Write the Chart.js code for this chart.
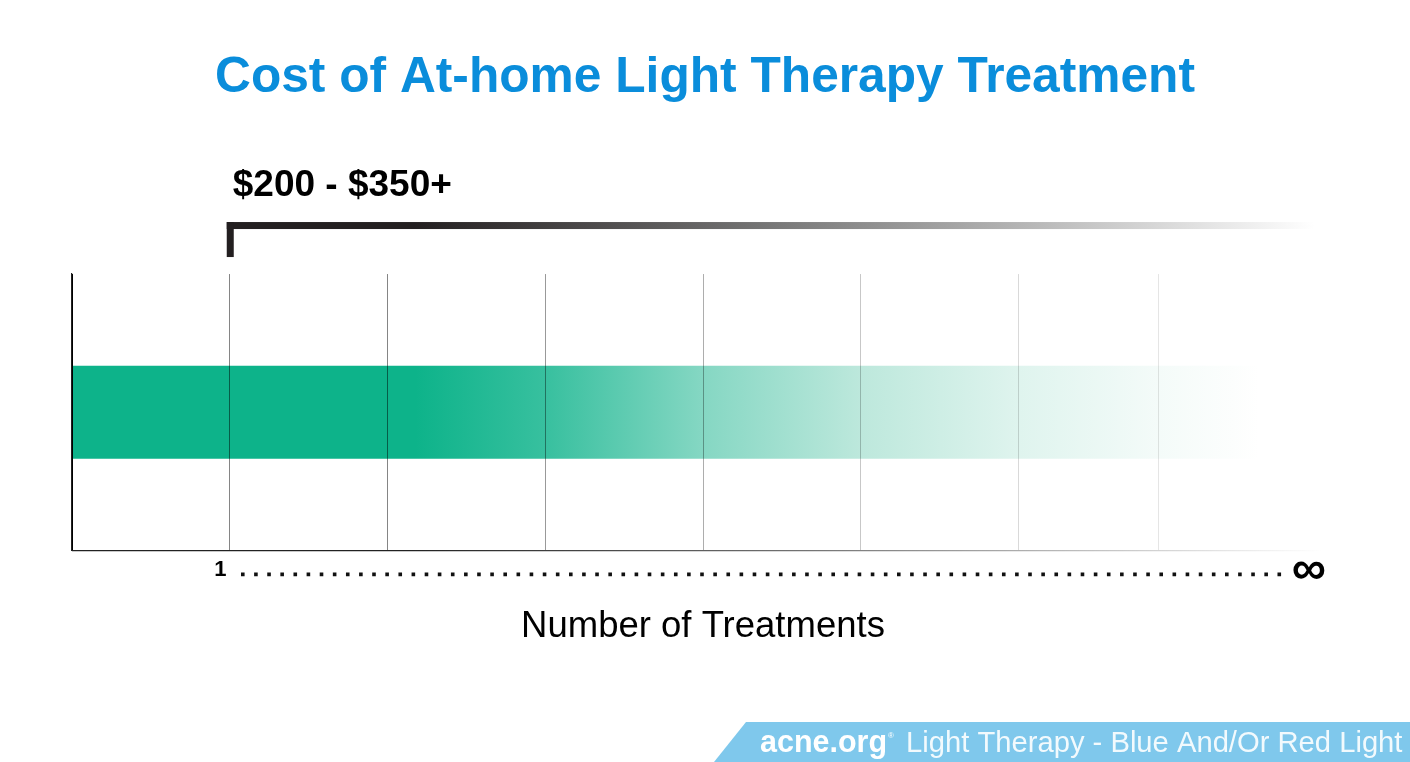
<!DOCTYPE html>
<html><head><meta charset="utf-8">
<style>html,body{margin:0;padding:0;background:#fff}canvas{display:block}#w{position:relative;width:1410px;height:762px}</style>
<script src="https://cdn.jsdelivr.net/npm/chart.js@4"></script>
</head><body><div id="w"><canvas id="c"></canvas></div>
<script>
const categories = ['At-home light therapy'];
const treatmentTicks = [0, 0.94, 1, 2, 3, 4, 5, 6, 6.885, 7.84];
const tickLabels = ['', '1', '', '', '', '', '', '', '', '∞'];
const gridAlpha = [1, 0, 0.48, 0.48, 0.4, 0.32, 0.22, 0.15, 0.10, 0];
const barRange = [0, 7.92];
const axisMax = 8;
const fadeEnd = 7.92;
const costLabel = '$200 - $350+';
const titleText = 'Cost of At-home Light Therapy Treatment';
const axisTitle = 'Number of Treatments';
const footerBrand = 'acne.org';
const footerText = 'Light Therapy - Blue And/Or Red Light';
const FONT = '"Liberation Sans", Arial, sans-serif';

const cv = document.getElementById('c');
const helper = cv.getContext('2d');
const barGrad = helper.createLinearGradient(72, 0, 1321, 0);
[[0,'#0db38a'],[0.275,'#0db38a'],[0.38,'#38c09f'],[0.505,'#85d7c3'],[0.632,'#bde8dc'],[0.759,'#dff4ee'],[0.87,'#f4fbf9'],[0.93,'#fcfefd'],[0.95,'#ffffff'],[1,'#ffffff']]
  .forEach(s => barGrad.addColorStop(s[0], s[1]));

const annot = {
  id: 'annot',
  afterDraw(chart) {
    const ctx = chart.ctx, x = chart.scales.x, a = chart.chartArea;
    const px = v => x.getPixelForValue(v);
    ctx.save();
    const bl = ctx.createLinearGradient(px(0), 0, px(fadeEnd), 0);
    bl.addColorStop(0, '#222'); bl.addColorStop(0.27, '#222'); bl.addColorStop(0.6, '#777'); bl.addColorStop(1, '#fff');
    ctx.strokeStyle = bl; ctx.lineWidth = 1.2;
    ctx.beginPath(); ctx.moveTo(px(0), a.bottom + .3); ctx.lineTo(px(fadeEnd), a.bottom + .3); ctx.stroke();
    const br = ctx.createLinearGradient(px(1), 0, 1315, 0);
    br.addColorStop(0, '#231f20'); br.addColorStop(0.17, '#231f20'); br.addColorStop(0.5, '#777'); br.addColorStop(0.8, '#c8c8c8'); br.addColorStop(1, '#ffffff');
    ctx.fillStyle = br;
    ctx.fillRect(px(1) - 3, a.top - 52, 1088, 7);
    ctx.fillStyle = '#231f20';
    ctx.fillRect(px(1) - 3, a.top - 52, 7, 35);
    ctx.fillStyle = '#000'; ctx.textAlign = 'left'; ctx.textBaseline = 'alphabetic';
    ctx.font = 'bold 37px ' + FONT;
    ctx.fillText(costLabel, px(1) + 3, a.top - 78);
    ctx.strokeStyle = '#111'; ctx.lineWidth = 3.6; ctx.setLineDash([3.6, 9.52]);
    ctx.beginPath(); ctx.moveTo(241, a.bottom + 24); ctx.lineTo(1282, a.bottom + 24); ctx.stroke();
    ctx.setLineDash([]);
    ctx.fillStyle = '#7fc8ec';
    ctx.beginPath(); ctx.moveTo(714, 762); ctx.lineTo(746, 722); ctx.lineTo(1410, 722); ctx.lineTo(1410, 762); ctx.closePath(); ctx.fill();
    ctx.fillStyle = '#fff'; ctx.font = 'bold 30.5px ' + FONT;
    ctx.fillText(footerBrand, 760, 752);
    ctx.font = '8px ' + FONT; ctx.fillText('®', 888, 738);
    ctx.fillStyle = 'rgba(255,255,255,.9)'; ctx.font = '29.2px ' + FONT;
    ctx.fillText(footerText, 906, 752);
    ctx.restore();
  }
};

new Chart(cv, {
  type: 'bar',
  plugins: [annot],
  data: { labels: categories, datasets: [{ data: [barRange], backgroundColor: barGrad, borderWidth: 0, barPercentage: 0.336, categoryPercentage: 1 }] },
  options: {
    indexAxis: 'y', responsive: true, maintainAspectRatio: false, animation: false,
    layout: { padding: 0 },
    plugins: {
      legend: { display: false }, tooltip: { enabled: false },
      title: { display: true, text: titleText, color: '#0a8ddb', font: { family: FONT, size: 49.7, weight: 'bold', lineHeight: 1.2 }, padding: { top: 48, bottom: 166.4 } }
    },
    scales: {
      x: {
        type: 'linear', min: 0, max: axisMax,
        afterBuildTicks(s) { s.ticks = treatmentTicks.map(v => ({ value: v })); },
        grid: { z: 1, drawTicks: false, color: c => 'rgba(0,0,0,' + (gridAlpha[c.index] ?? 0) + ')', lineWidth: 1 },
        border: { display: false },
        ticks: { autoSkip: false, maxRotation: 0, padding: 20, crossAlign: 'center', color: '#000', font: c => (c.index === 9 ? { family: FONT, weight: 'bold', size: 48, lineHeight: 0.55 } : { family: FONT, weight: 'bold', size: 22, lineHeight: 1.2 }), callback: (v, i) => tickLabels[i] },
        title: { display: true, text: axisTitle, color: '#000', font: { family: FONT, size: 36.5 }, padding: { top: -12.1, bottom: 113.5 } }
      },
      y: {
        type: 'category', grid: { display: false }, border: { display: true, color: '#222', width: 1.2 },
        ticks: { display: false }, afterFit(s) { s.width = 72; }
      },
      yRight: {
        type: 'linear', position: 'right', grid: { display: false }, border: { display: false },
        ticks: { display: false }, afterFit(s) { s.width = 76; }
      }
    }
  }
});
</script></body></html>
